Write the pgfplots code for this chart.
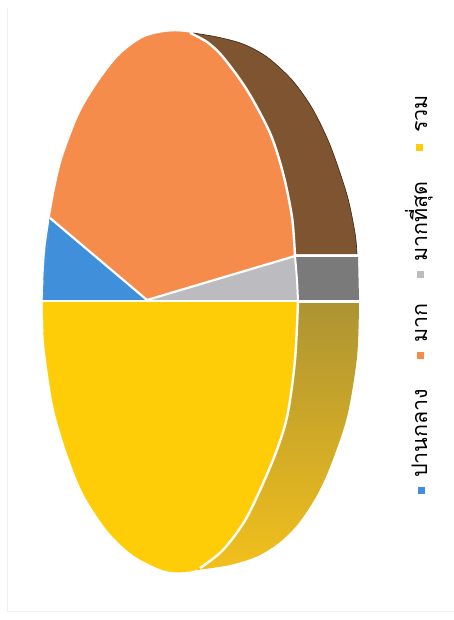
\documentclass[border=0pt]{standalone}
\usepackage{pgfplots}
\pgfplotsset{compat=1.18}
\usepackage{fontspec}
\newfontfamily\thaifont[Script=Thai]{Loma}
\definecolor{cYel}{HTML}{FFCC08}
\definecolor{cOra}{HTML}{F68C4C}
\definecolor{cBlu}{HTML}{3F8FDA}
\definecolor{cGra}{HTML}{BCBCC0}
\definecolor{cBro}{HTML}{7F5431}
\definecolor{cOlT}{HTML}{AD9433}
\definecolor{cOlB}{HTML}{F2C01C}
\begin{document}
\begin{tikzpicture}
\begin{axis}[
  scale only axis, width=454pt, height=620pt,
  xmin=0, xmax=454, ymin=0, ymax=620, y dir=reverse,
  hide axis, clip=true,
]
\path[use as bounding box] (axis cs:0,0) rectangle (axis cs:454,620);
% faint scan frame
\addplot[black!6, line width=0.8pt, forget plot] coordinates {(7,8)(7,611)(454,611)};
% sides of the pie: outer arc, then the rest under the top face
\addplot[smooth, fill=cBro, draw=none, forget plot] coordinates {
 (193,33)(217,37)(243,44)(267,57)(292,80)(312,108)(330,145)(347,195)(355,233)(357,254)} -- cycle;
\addplot[fill=cBro, draw=none, forget plot] coordinates {(193,33)(240,50)(290,100)(320,160)(350,235)(357,254)(290,254)} -- cycle;
\addplot[smooth, draw=cBro!55!black, line width=0.7pt, forget plot] coordinates {
 (193,33)(217,37)(243,44)(267,57)(292,80)(312,108)(330,145)(347,195)(355,233)(357,254)};
\addplot[fill=black!52, draw=none, forget plot] coordinates {(290,256)(358,256)(359,300)(290,300)} -- cycle;
\addplot[smooth, draw=none, forget plot, top color=cOlT, bottom color=cOlB] coordinates {
 (359,303)(357,357)(347,417)(330,467)(316,497)(298,524)(280,542)(258,556)(230,565)(197,570)} -- cycle;
\addplot[draw=none, forget plot, top color=cOlT, bottom color=cOlB] coordinates {(359,303)(350,360)(330,440)(298,510)(230,560)(197,570)(290,303)} -- cycle;
% top face: each wedge is a straight core and a smooth cap on its arc
\addplot[smooth, fill=cYel, draw=cYel, line width=0.3pt, forget plot] coordinates {
 (43,301)(44,340)(49,380)(55,413)(67,453)(83,493)(107,530)(133,555)(163,570)(183,572)(200,568)(223,550)(247,517)(273,460)(287,417)(295,360)(298,301)} -- cycle;
\addplot[smooth, fill=cOra, draw=cOra, line width=0.3pt, forget plot] coordinates {
 (50,218)(55,190)(63,157)(80,113)(100,80)(120,55)(143,38)(167,32)(190,33)(207,42)(223,57)(247,90)(270,133)(283,173)(292,217)(295,256)} -- cycle;
\addplot[fill=cOra, draw=cOra, line width=0.3pt, forget plot] coordinates {(147,300)(50,218)(100,120)(200,60)(280,180)(295,256)} -- cycle;
\addplot[smooth, fill=cBlu, draw=cBlu, line width=0.3pt, forget plot] coordinates {(50,218)(46,245)(44,270)(43,300)} -- cycle;
\addplot[fill=cBlu, draw=cBlu, line width=0.3pt, forget plot] coordinates {(147,300)(50,218)(43,300)} -- cycle;
\addplot[smooth, fill=cGra, draw=cGra, line width=0.3pt, forget plot] coordinates {(295,256)(297,280)(298,300)} -- cycle;
\addplot[fill=cGra, draw=cGra, line width=0.3pt, forget plot] coordinates {(147,300)(295,256)(298,300)} -- cycle;
% white separators
\addplot[smooth, white, line width=2.4pt, forget plot] coordinates {
 (190,33)(207,42)(223,57)(247,90)(270,133)(283,173)(292,217)(295,256)};
\addplot[smooth, white, line width=2.4pt, forget plot] coordinates {
 (298,301)(295,360)(287,417)(273,460)(247,517)(223,550)(200,568)};
\addplot[smooth, white, line width=2.0pt, forget plot] coordinates {(295,256)(297,280)(298,301)};
\addplot[white, line width=2.4pt, forget plot] coordinates {(40,301)(362,301)};
\addplot[white, line width=2.2pt, forget plot] coordinates {(295,256)(360,256)};
\addplot[white, line width=2.2pt, forget plot] coordinates {(147,300)(295,256)};
\addplot[white, line width=2.2pt, forget plot] coordinates {(147,300)(50,218)};
% legend swatches
\addplot[only marks, mark=square*, mark size=3.2pt, mark options={draw=cBlu, fill=cBlu}, forget plot] coordinates {(421,490)};
\addplot[only marks, mark=square*, mark size=3.2pt, mark options={draw=cOra, fill=cOra}, forget plot] coordinates {(420,355)};
\addplot[only marks, mark=square*, mark size=3.2pt, mark options={draw=cGra, fill=cGra}, forget plot] coordinates {(420,274)};
\addplot[only marks, mark=square*, mark size=3.2pt, mark options={draw=cYel, fill=cYel}, forget plot] coordinates {(419,147)};
\node[rotate=90, anchor=base west, font=\thaifont\fontsize{21.5}{21.5}\selectfont, inner sep=0pt] at (axis cs:427,478) {ปานกลาง};
\node[rotate=90, anchor=base west, font=\thaifont\fontsize{21.5}{21.5}\selectfont, inner sep=0pt] at (axis cs:427,343) {มาก};
\node[rotate=90, anchor=base west, font=\thaifont\fontsize{21.5}{21.5}\selectfont, inner sep=0pt] at (axis cs:427,262) {มากที่สุด};
\node[rotate=90, anchor=base west, font=\thaifont\fontsize{21.5}{21.5}\selectfont, inner sep=0pt] at (axis cs:427,133) {รวม};
\end{axis}
\end{tikzpicture}
\end{document}
